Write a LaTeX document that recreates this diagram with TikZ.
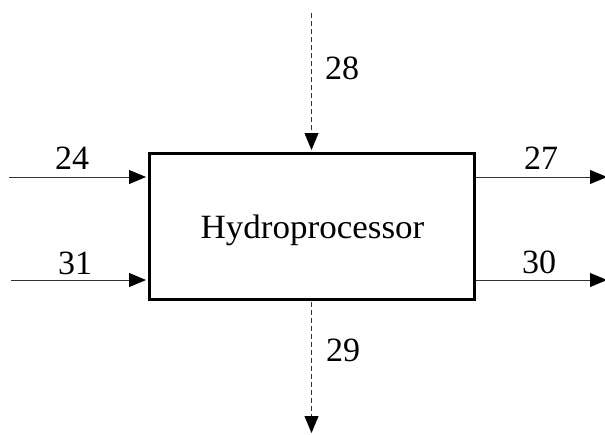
\documentclass[tikz,border=0pt]{standalone}
\usepackage{fontspec}
\setmainfont{Liberation Serif}
\usetikzlibrary{arrows.meta}
\begin{document}
\begin{tikzpicture}[x=1pt,y=-1pt,
  flow/.style={line width=0.8pt,draw=black!80,-{Triangle[length=17pt,width=14pt,fill=black,color=black]}},
  dflow/.style={flow,dash pattern=on 5pt off 3pt},
  lbl/.style={inner sep=0pt,font=\fontsize{34}{40}\selectfont},
  unit/.style={draw,line width=3pt,minimum width=325pt,minimum height=146pt,inner sep=0pt,font=\fontsize{34}{40}\selectfont}]
\useasboundingbox (0,0) rectangle (605,434);
\node[unit] (hp) at (311.5,226) {};
\node[inner sep=0pt,anchor=base,font=\fontsize{34}{40}\selectfont,xscale=1.03] (hpt) at (312.5,238) {Hydroprocessor};
\coordinate (in1) at (9,177);
\coordinate (in2) at (11,280);
\coordinate (out1) at (607,177);
\coordinate (out2) at (607,280);
\coordinate (top) at (311.5,13);
\coordinate (bot) at (311.5,433);
\draw[flow,shorten >=1.5pt] (in1) -- (in1 -| hp.west);
\draw[flow,shorten >=1.5pt] (in2) -- (in2 -| hp.west);
\draw[flow] (out1 -| hp.east) -- (out1);
\draw[flow] (out2 -| hp.east) -- (out2);
\draw[dflow,shorten >=1.5pt] (top) -- (hp.north);
\draw[dflow,shorten <=1.5pt] (hp.south) -- (bot);
\node[lbl] (l24) at (72,158) {24};
\node[lbl] (l31) at (75,263) {31};
\node[lbl] (l27) at (541,158) {27};
\node[lbl] (l30) at (539,262) {30};
\node[lbl] (l28) at (342,68) {28};
\node[lbl] (l29) at (343,350) {29};
\end{tikzpicture}
\end{document}
